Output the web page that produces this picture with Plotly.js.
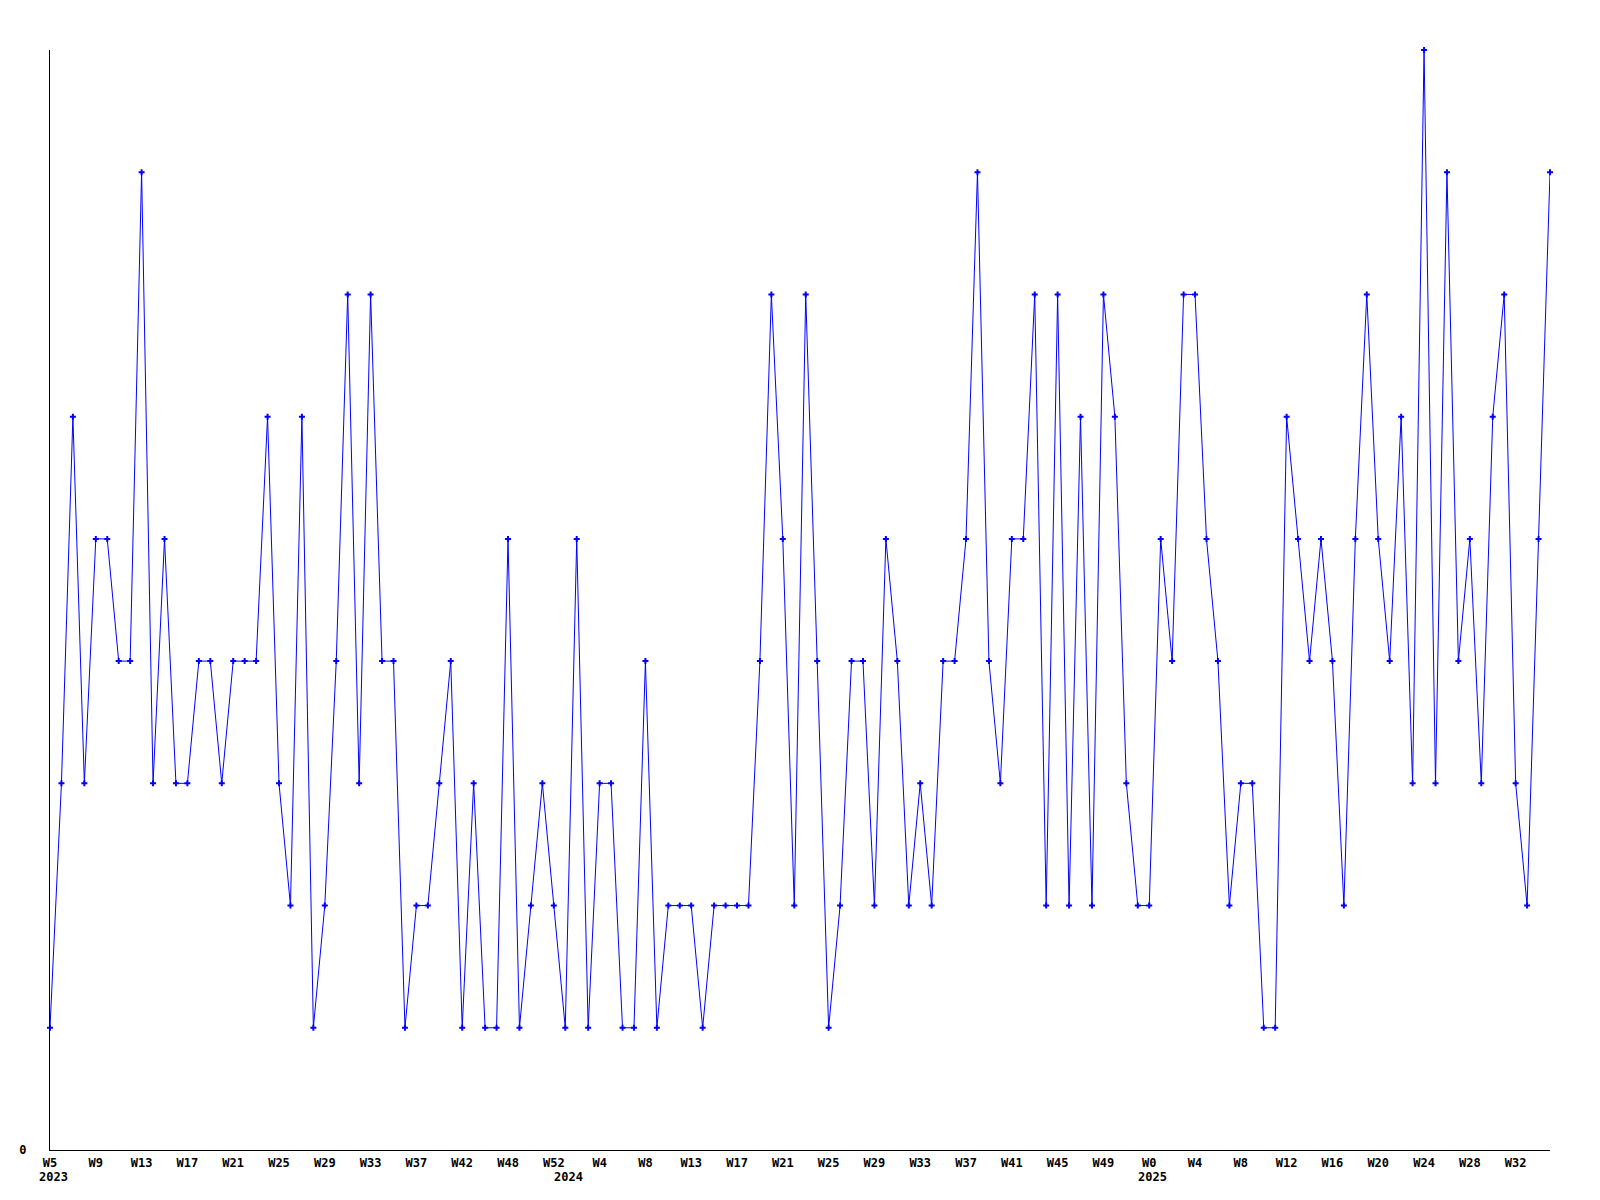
<!DOCTYPE html>
<html>
<head>
<meta charset="utf-8">
<script src="https://cdn.plot.ly/plotly-3.0.1.min.js"></script>
<style>
html,body{margin:0;padding:0;background:#fff;}
#chart{width:1600px;height:1200px;}
</style>
</head>
<body>
<div id="chart"></div>
<script>
// Values per week (index order)
const values = [
  1,3,6,3,5,5,4,4,8,3,
  5,3,3,4,4,3,4,4,4,6,
  3,2,6,1,2,4,7,3,7,4,
  4,1,2,2,3,4,1,3,1,1,
  5,1,2,3,2,1,5,1,3,3,
  1,1,4,1,2,2,2,1,2,2,
  2,2,4,7,5,2,7,4,1,2,
  4,4,2,5,4,2,3,2,4,4,
  5,8,4,3,5,5,7,2,7,2,
  6,2,7,6,3,2,2,5,4,7,
  7,5,4,2,3,3,1,1,6,5,
  4,5,4,2,5,7,5,4,6,3,
  9,3,8,4,5,3,6,7,3,2,
  5,8
];
// Tick labels placed every 4 points
const tickLabels = ["W5","W9","W13","W17","W21","W25","W29","W33","W37","W42","W48","W52",
  "W4","W8","W13","W17","W21","W25","W29","W33","W37","W41","W45","W49",
  "W0","W4","W8","W12","W16","W20","W24","W28","W32"];
const tickStep = 4;
// Year labels and the point index they sit under
const yearLabels = ["2023","2024","2025"];
const yearIndex = [0,45,96];

const xs = values.map((v,i)=>i);
const tickvals = tickLabels.map((t,i)=>i*tickStep);

const font = {family:"DejaVu Sans Mono, monospace", size:12, color:"#000", weight:"bold"};

const annotations = yearLabels.map((y,k)=>({
  x: yearIndex[k], xref:"x", y:0, yref:"paper",
  text:"<b>"+y+"</b>", showarrow:false, xanchor:"center", yanchor:"middle",
  yshift:-27, xshift:3, font:font
}));

Plotly.newPlot("chart",[{
  x: xs, y: values, type:"scatter", mode:"lines+markers",
  cliponaxis:false,
  line:{color:"#0000ff", width:1},
  marker:{color:"#0000ff", symbol:"cross", size:5}
}],{
  width:1600, height:1200,
  margin:{l:50,r:50,t:50,b:50},
  paper_bgcolor:"#fff", plot_bgcolor:"#fff",
  showlegend:false,
  font:font,
  xaxis:{
    range:[0, values.length-1],
    tickmode:"array", tickvals:tickvals, ticktext:tickLabels,
    showgrid:false, zeroline:false,
    showline:true, linecolor:"#000", linewidth:1,
    ticks:"", tickfont:font, ticklabelstandoff:2
  },
  yaxis:{
    range:[0,9],
    tickmode:"array", tickvals:[0], ticktext:["0"],
    showgrid:false, zeroline:false,
    showline:true, linecolor:"#000", linewidth:1,
    ticks:"", tickfont:font, ticklabelstandoff:20
  },
  annotations:annotations
},{displayModeBar:false});
</script>
</body>
</html>
